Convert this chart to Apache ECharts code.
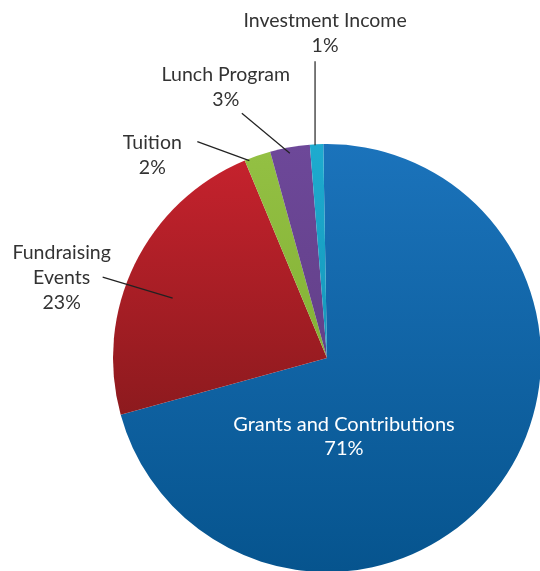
<!DOCTYPE html>
<html><head><meta charset="utf-8">
<script src="https://cdn.jsdelivr.net/npm/echarts@6/dist/echarts.min.js"></script>
<style>html,body{margin:0;padding:0;background:#fff}#c{width:540px;height:571px}</style>
</head><body><div id="c"></div>
<script>
// ---- data ----
const categories = ['Grants and Contributions', 'Fundraising Events', 'Tuition', 'Lunch Program', 'Investment Income'];
const labelTexts = ['Grants and Contributions', 'Fundraising\nEvents', 'Tuition', 'Lunch Program', 'Investment Income'];
const shares = [71, 23, 2, 3, 1];

// ---- styles ----
const sliceColors = [
  ['#1b73bb', '#06548e'],
  ['#c5222d', '#8d1a1e'],
  ['#93c043', '#84b236'],
  ['#6d4899', '#634089'],
  ['#1eabcf', '#1598bb']
];
// label guide geometry, relative to the slice's outer mid-point (from ECharts)
const guides = {
  1: { start: [38, 34], end: [-32, 13], text: [-41, 1] },
  2: { start: [-8, 5], end: [-60, -14], text: [-45, 13.5] },
  3: { start: [0, 6], end: [-48, -34], text: [-16, -26] },
  4: { start: [-1.5, 1], end: [-1.5, -83], text: [10, -28.5] }
};

const chart = echarts.init(document.getElementById('c'), null, { renderer: 'canvas' });

function grad(c) {
  return new echarts.graphic.LinearGradient(0, 0, 0, 1, [
    { offset: 0, color: c[0] }, { offset: 1, color: c[1] }
  ]);
}

const common = {
  type: 'pie',
  center: [327, 358],
  radius: 214,
  startAngle: 91,
  clockwise: true,
  avoidLabelOverlap: false,
  silent: true
};

chart.setOption({
  animation: false,
  series: [
    Object.assign({}, common, {
      z: 2,
      itemStyle: { borderWidth: 0 },
      label: { show: false },
      labelLine: { show: false },
      data: categories.map((n, i) => ({
        name: n, value: shares[i], itemStyle: { color: grad(sliceColors[i]) }
      }))
    }),
    Object.assign({}, common, {
      z: 10,
      itemStyle: { color: 'rgba(0,0,0,0)', borderWidth: 0 },
      label: {
        show: true,
        position: 'outside',
        color: '#333',
        fontFamily: 'Lato',
        fontSize: 19.5,
        lineHeight: 25,
        formatter: p => labelTexts[p.dataIndex] + '\n' + p.value + '%'
      },
      labelLine: { show: true, showAbove: true, length: 20, length2: 0, lineStyle: { color: '#222', width: 1.2 } },
      labelLayout: function (p) {
        if (p.dataIndex === 0) {
          return { x: '63.7%', y: '76.5%', align: 'center', verticalAlign: 'middle' };
        }
        const g = guides[p.dataIndex];
        const p0 = p.labelLinePoints[0];
        const s = [p0[0] + g.start[0], p0[1] + g.start[1]];
        const e = [p0[0] + g.end[0], p0[1] + g.end[1]];
        return {
          x: e[0] + g.text[0],
          y: e[1] + g.text[1],
          align: 'center',
          verticalAlign: 'middle',
          labelLinePoints: [s, e]
        };
      },
      data: categories.map((n, i) => ({
        name: n,
        value: shares[i],
        label: i === 0 ? { position: 'inside', color: '#fff', fontSize: 20, lineHeight: 24 } : undefined,
        labelLine: i === 0 ? { show: false } : undefined
      }))
    })
  ]
});
</script>
</body></html>
